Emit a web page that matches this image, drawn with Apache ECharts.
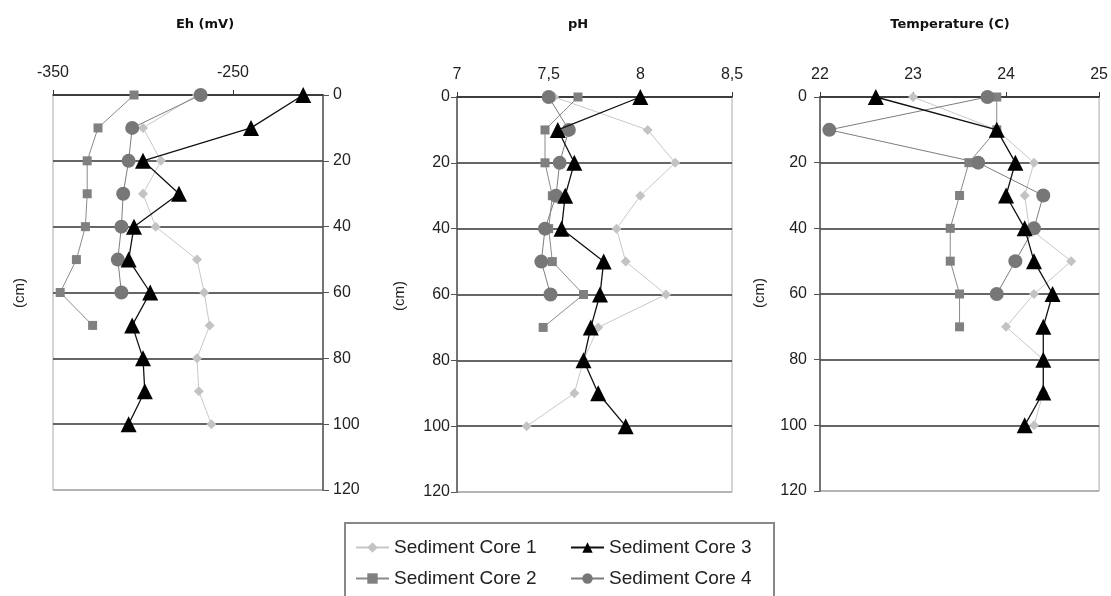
<!DOCTYPE html>
<html><head><meta charset="utf-8">
<script src="https://cdn.jsdelivr.net/npm/echarts@6/dist/echarts.min.js"></script>
<style>html,body{margin:0;padding:0;background:#fff}#c{width:1111px;height:596px}</style>
</head><body><div id="c"></div>
<script>
const depths = [0, 10, 20, 30, 40, 50, 60, 70, 80, 90, 100];
const seriesNames = ['Sediment Core 1', 'Sediment Core 2', 'Sediment Core 3', 'Sediment Core 4'];
const panelTitles = ['Eh (mV)', 'pH', 'Temperature (C)'];
const depthTicks = [0, 20, 40, 60, 80, 100, 120];

const ehCore1 = [-270, -300, -290, -300, -293, -270, -266, -263, -270, -269, -262];
const ehCore2 = [-305, -325, -331, -331, -332, -337, -346, -328];
const ehCore3 = [-211, -240, -300, -280, -305, -308, -296, -306, -300, -299, -308];
const ehCore4 = [-268, -306, -308, -311, -312, -314, -312];
const ehTicks = [-350, -250];

const phCore1 = [7.53, 8.04, 8.19, 8.0, 7.87, 7.92, 8.14, 7.77, 7.69, 7.64, 7.38];
const phCore2 = [7.66, 7.48, 7.48, 7.52, 7.50, 7.52, 7.69, 7.47];
const phCore3 = [8.0, 7.55, 7.64, 7.59, 7.57, 7.80, 7.78, 7.73, 7.69, 7.77, 7.92];
const phCore4 = [7.50, 7.61, 7.56, 7.54, 7.48, 7.46, 7.51];
const phTicks = [7, 7.5, 8, 8.5];

const tCore1 = [23.0, 23.9, 24.3, 24.2, 24.25, 24.7, 24.3, 24.0, 24.4, 24.4, 24.3];
const tCore2 = [23.9, 23.9, 23.6, 23.5, 23.4, 23.4, 23.5, 23.5];
const tCore3 = [22.6, 23.9, 24.1, 24.0, 24.2, 24.3, 24.5, 24.4, 24.4, 24.4, 24.2];
const tCore4 = [23.8, 22.1, 23.7, 24.4, 24.3, 24.1, 23.9];
const tTicks = [22, 23, 24, 25];

const styles = [
  {symbol: 'diamond', size: 10, color: '#c3c3c3', line: '#c8c8c8', width: 1, z: 2},
  {symbol: 'rect', size: 9, color: '#808080', line: '#8a8a8a', width: 1, z: 3},
  {symbol: 'triangle', size: 16, color: '#000000', line: '#111111', width: 1.3, z: 5},
  {symbol: 'circle', size: 14, color: '#777777', line: '#7d7d7d', width: 1, z: 4}
];

const panels = [
  {data: [ehCore1, ehCore2, ehCore3, ehCore4], min: -350, max: -200, ticks: ehTicks, grid: {left: 53, top: 95, width: 270, height: 395}, yPos: 'right', yMargin: 10},
  {data: [phCore1, phCore2, phCore3, phCore4], min: 7, max: 8.5, ticks: phTicks, grid: {left: 457, top: 97, width: 275, height: 395}, yPos: 'left', yMargin: 7},
  {data: [tCore1, tCore2, tCore3, tCore4], min: 22, max: 25, ticks: tTicks, grid: {left: 820, top: 97, width: 281, height: 394}, yPos: 'left', yMargin: 13}
];

const labelFont = {fontFamily: 'Liberation Sans, Arial, sans-serif', fontSize: 16, color: '#222'};

const grids = [], xAxes = [], yAxes = [], series = [];
panels.forEach((p, pi) => {
  grids.push(Object.assign({show: true, borderColor: '#aaaaaa', borderWidth: 1, backgroundColor: 'transparent'}, p.grid));
  xAxes.push({
    type: 'value', gridIndex: pi, position: 'top', min: p.min, max: p.max,
    axisLine: {show: true, onZero: false, lineStyle: {color: '#333', width: 1.5}},
    axisTick: {show: true, inside: false, length: 5, customValues: p.ticks, lineStyle: {color: '#333'}},
    axisLabel: Object.assign({show: true, margin: 14, customValues: p.ticks,
      formatter: v => String(v).replace('.', ',')}, labelFont),
    splitLine: {show: false}
  });
  yAxes.push({
    type: 'value', gridIndex: pi, inverse: true, min: 0, max: 120, interval: 20,
    position: p.yPos,
    axisLine: {show: true, onZero: false, lineStyle: {color: '#555', width: 1.5}},
    axisTick: {show: true, length: 6, lineStyle: {color: '#555'}},
    axisLabel: Object.assign({margin: p.yMargin}, labelFont),
    splitLine: {show: true, lineStyle: {color: ['#333', '#333', '#333', '#333', '#333', '#333', '#aaaaaa'], width: 1.5}}
  });
  p.data.forEach((arr, si) => {
    const s = styles[si];
    series.push({
      name: seriesNames[si], type: 'line', xAxisIndex: pi, yAxisIndex: pi,
      data: arr.map((v, i) => [v, depths[i]]),
      symbol: s.symbol, symbolSize: s.size, z: s.z,
      itemStyle: {color: s.color, borderWidth: 0},
      lineStyle: {color: s.line, width: s.width},
      emphasis: {disabled: true}, animation: false
    });
  });
});

const titleCenters = [205, 578, 950];
const cmPos = [[20, 293], [400, 296], [760, 293]];
const graphics = [];
panelTitles.forEach((t, i) => graphics.push({
  type: 'text', x: titleCenters[i], y: 25,
  style: {text: t, fontFamily: 'DejaVu Sans, sans-serif', fontWeight: 'bold', fontSize: 13, fill: '#111', align: 'center', verticalAlign: 'middle'}
}));
cmPos.forEach(pos => graphics.push({
  type: 'text', x: pos[0], y: pos[1], rotation: Math.PI / 2,
  style: {text: '(cm)', fontFamily: 'Liberation Sans, Arial, sans-serif', fontSize: 15, fill: '#222', align: 'center', verticalAlign: 'middle'}
}));
graphics.push({type: 'rect', shape: {x: 345, y: 523, width: 429, height: 80},
  style: {fill: 'none', stroke: '#888', lineWidth: 2}, z: 0});

const legendText = {fontFamily: 'Liberation Sans, Arial, sans-serif', fontSize: 19, color: '#222'};
const legendSlots = [[355, 538], [355, 569], [570, 538], [570, 569]];
const legends = seriesNames.map((n, i) => ({
  data: [n], orient: 'horizontal', left: legendSlots[i][0], top: legendSlots[i][1],
  itemWidth: 33, itemHeight: 13, itemGap: 0, textStyle: legendText, selectedMode: false, padding: 0
}));

const chart = echarts.init(document.getElementById('c'), null, {renderer: 'canvas'});
chart.setOption({
  animation: false,
  backgroundColor: '#fff',
  grid: grids, xAxis: xAxes, yAxis: yAxes, series: series,
  graphic: graphics,
  legend: legends
});
</script></body></html>
